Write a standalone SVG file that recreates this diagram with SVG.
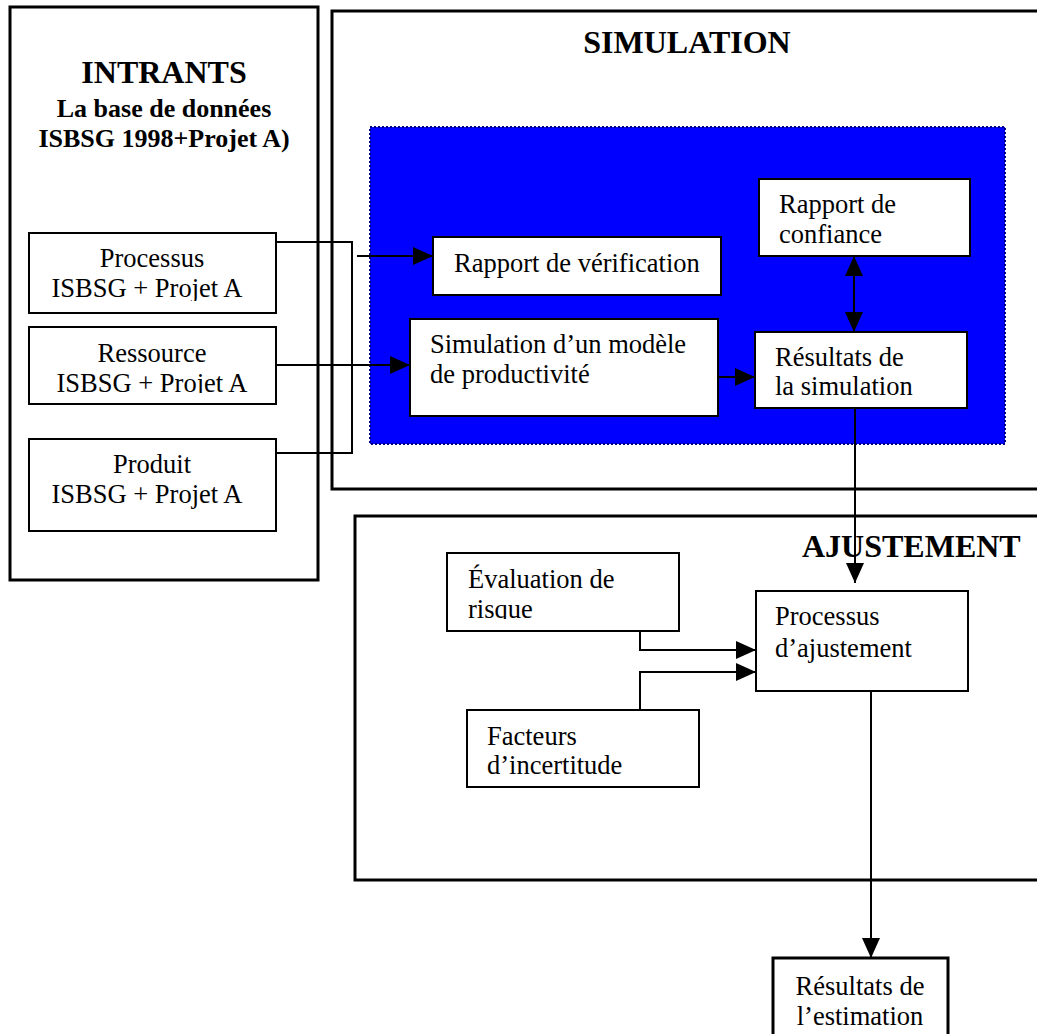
<svg xmlns="http://www.w3.org/2000/svg" width="1037" height="1034" viewBox="0 0 1037 1034">
<style>
.frame{fill:#fff;stroke:#000;stroke-width:3}
.box{fill:#fff;stroke:#000;stroke-width:2}
.thick{fill:#fff;stroke:#000;stroke-width:3}
.lbl{font-family:"Liberation Serif","Times New Roman",serif;font-size:26.5px;fill:#000}
.ttl{font-family:"Liberation Serif","Times New Roman",serif;font-weight:bold;fill:#000}
.c{text-anchor:middle}
.ln{fill:none;stroke:#000;stroke-width:2}
</style>
<defs>
<marker id="ah" viewBox="0 0 20 18" refX="20" refY="9" markerWidth="20" markerHeight="18" markerUnits="userSpaceOnUse" orient="auto-start-reverse">
<path d="M0,0 L20,9 L0,18 z" fill="#000"/>
</marker>
<clipPath id="cpProc"><rect x="29" y="233" width="247" height="68"/></clipPath>
<clipPath id="cpRess"><rect x="29" y="327" width="247" height="66"/></clipPath>
<clipPath id="cpEval"><rect x="447" y="553" width="232" height="66"/></clipPath>
</defs>
<rect width="1037" height="1034" fill="#fff"/>

<g id="intrants">
<rect class="frame" x="10" y="7" width="308" height="573"/>
<text class="ttl c" x="164" y="83" font-size="32">INTRANTS</text>
<text class="ttl c" x="164" y="117" font-size="26">La base de données</text>
<text class="ttl c" x="164" y="147" font-size="26">ISBSG 1998+Projet A)</text>
</g>

<g id="simulation">
<rect class="frame" x="332" y="11" width="720" height="478"/>
<text class="ttl c" x="687" y="53" font-size="32">SIMULATION</text>
<rect x="370" y="127" width="635" height="317" fill="#0000ff" stroke="#000080" stroke-width="2" stroke-dasharray="2,2"/>
</g>

<g id="ajustement">
<rect class="frame" x="355" y="516" width="700" height="364"/>
<text class="ttl" x="802" y="557" font-size="32">AJUSTEMENT</text>
</g>

<g id="processus">
<rect class="box" x="29" y="233" width="247" height="80"/>
<g clip-path="url(#cpProc)">
<text class="lbl c" x="152" y="267">Processus</text>
<text class="lbl c" x="147" y="297">ISBSG + Projet A</text>
</g>
</g>

<g id="ressource">
<rect class="box" x="29" y="327" width="247" height="77"/>
<g clip-path="url(#cpRess)">
<text class="lbl c" x="152" y="362">Ressource</text>
<text class="lbl c" x="152" y="392">ISBSG + Projet A</text>
</g>
</g>

<g id="produit">
<rect class="box" x="29" y="439" width="247" height="92"/>
<text class="lbl c" x="152" y="473">Produit</text>
<text class="lbl c" x="147" y="503">ISBSG + Projet A</text>
</g>

<g id="rapport-verification">
<rect class="box" x="433" y="237" width="288" height="58"/>
<text class="lbl" x="454" y="272">Rapport de vérification</text>
</g>

<g id="rapport-confiance">
<rect class="box" x="759" y="179" width="211" height="77"/>
<text class="lbl" x="779" y="213">Rapport de</text>
<text class="lbl" x="779" y="243">confiance</text>
</g>

<g id="simulation-modele">
<rect class="box" x="410" y="319" width="308" height="97"/>
<text class="lbl" x="430" y="353">Simulation d’un modèle</text>
<text class="lbl" x="430" y="383">de productivité</text>
</g>

<g id="resultats-simulation">
<rect class="box" x="755" y="332" width="212" height="76"/>
<text class="lbl" x="775" y="366">Résultats de</text>
<text class="lbl" x="775" y="395">la simulation</text>
</g>

<g id="evaluation-risque">
<rect class="box" x="447" y="553" width="232" height="78"/>
<g clip-path="url(#cpEval)">
<text class="lbl" x="468" y="588">Évaluation de</text>
<text class="lbl" x="468" y="618">risque</text>
</g>
</g>

<g id="processus-ajustement">
<rect class="box" x="756" y="591" width="212" height="100"/>
<text class="lbl" x="775" y="625">Processus</text>
<text class="lbl" x="775" y="657">d’ajustement</text>
</g>

<g id="facteurs-incertitude">
<rect class="box" x="467" y="710" width="232" height="77"/>
<text class="lbl" x="487" y="745">Facteurs</text>
<text class="lbl" x="487" y="774">d’incertitude</text>
</g>

<g id="resultats-estimation">
<rect class="thick" x="773" y="958" width="175" height="90"/>
<text class="lbl c" x="860" y="995">Résultats de</text>
<text class="lbl c" x="860" y="1025">l’estimation</text>
</g>

<g id="connectors">
<path class="ln" d="M276,242 H352 V453 H276"/>
<path class="ln" d="M357,256 H433" marker-end="url(#ah)"/>
<path class="ln" d="M276,365 H410" marker-end="url(#ah)"/>
<path class="ln" d="M718,377 H755" marker-end="url(#ah)"/>
<path class="ln" d="M854,256 V332" marker-start="url(#ah)" marker-end="url(#ah)"/>
<path class="ln" d="M855,408 V583" marker-end="url(#ah)"/>
<path class="ln" d="M640,631 V650 H756" marker-end="url(#ah)"/>
<path class="ln" d="M640,710 V672 H756" marker-end="url(#ah)"/>
<path class="ln" d="M871,691 V958" marker-end="url(#ah)"/>
</g>
</svg>
